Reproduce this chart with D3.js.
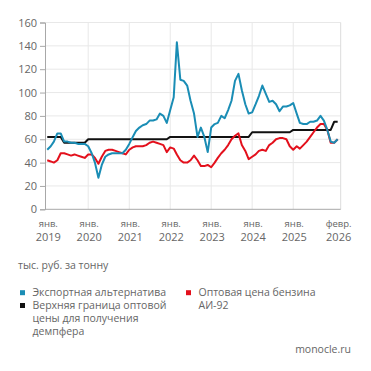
<!DOCTYPE html>
<html>
<head>
<meta charset="utf-8">
<script src="https://cdn.jsdelivr.net/npm/d3@7"></script>
<style>
  body { margin: 0; background: #fff; }
  svg { display: block; font-family: "Open Sans", "Noto Sans", sans-serif; }
</style>
</head>
<body>
<svg id="chart"></svg>
<script>
const width = 371, height = 371;
const svg = d3.select("#chart").attr("width", width).attr("height", height);

// monthly values, Jan 2019 .. Feb 2026 (тыс. руб. за тонну)
const startMonth = new Date(2019, 0, 1);
const exportAlt = [
  51, 54, 58, 65, 65, 58, 58, 57, 57, 56, 56, 56,
  54, 48, 40, 27, 38, 45, 47, 48, 48, 48, 48, 51,
  56, 62, 67, 70, 72, 73, 76, 76, 77, 82, 80, 74,
  85, 96, 143, 111, 110, 106, 93, 82, 62, 70, 62, 49,
  70, 73, 74, 80, 78, 85, 93, 110, 116, 102, 90, 82,
  83, 90, 97, 106, 99, 92, 93, 90, 84, 88, 88, 89,
  91, 82, 74, 73, 73, 75, 75, 76, 80, 76, 68, 58,
  57, 60
];
const wholesale = [
  42, 41, 40, 42, 48, 48, 47, 46, 47, 46, 45, 44,
  47, 47, 44, 39, 45, 50, 51, 51, 50, 49, 48, 47,
  51, 53, 54, 54, 54, 55, 57, 58, 57, 56, 55, 49,
  53, 52, 47, 42, 40, 40, 42, 46, 42, 37, 37, 38,
  36, 40, 44, 48, 51, 55, 60, 63, 65, 55, 50, 43,
  45, 47, 50, 51, 50, 55, 57, 60, 61, 61, 60, 54,
  51, 54, 52, 55, 58, 62, 66, 70, 73, 73, 68, 57,
  57, 60
];
const upperBound = [
  62, 62, 62, 62, 62, 57, 57, 57, 57, 57, 57, 57,
  60, 60, 60, 60, 60, 60, 60, 60, 60, 60, 60, 60,
  60, 60, 60, 60, 60, 60, 60, 60, 60, 60, 60, 60,
  62, 62, 62, 62, 62, 62, 62, 62, 62, 62, 62, 62,
  62, 62, 62, 62, 62, 62, 62, 62, 62, 62, 62, 62,
  66, 66, 66, 66, 66, 66, 66, 66, 66, 66, 66, 66,
  68, 68, 68, 68, 68, 68, 68, 68, 68, 68, 68, 68,
  75, 75
];
const yTicks = [0, 20, 40, 60, 80, 100, 120, 140, 160];
const xTickDates = [
  new Date(2019, 0, 1), new Date(2020, 0, 1), new Date(2021, 0, 1), new Date(2022, 0, 1),
  new Date(2023, 0, 1), new Date(2024, 0, 1), new Date(2025, 0, 1), new Date(2026, 1, 1)
];
const xTickMonths = ["янв.", "янв.", "янв.", "янв.", "янв.", "янв.", "янв.", "февр."];
const xTickYears = ["2019", "2020", "2021", "2022", "2023", "2024", "2025", "2026"];
const gridDates = [
  new Date(2020, 0, 1), new Date(2021, 0, 1), new Date(2022, 0, 1),
  new Date(2023, 0, 1), new Date(2024, 0, 1), new Date(2025, 0, 1)
];

const months = d3.timeMonth.range(startMonth, d3.timeMonth.offset(startMonth, exportAlt.length));

const colors = { blue: "#1a8db5", red: "#e3101c", black: "#111111", grid: "#e8e8e8", axis: "#a8a8a8", text: "#666" };

const x = d3.scaleTime()
  .domain([new Date(2018, 11, 12), new Date(2026, 1, 28)])
  .range([45, 340.7]);
const y = d3.scaleLinear().domain([0, 160]).range([209.3, 22.5]);

// grid
svg.append("g").selectAll("line").data(yTicks.filter(d => d > 0)).join("line")
  .attr("x1", x.range()[0]).attr("x2", x.range()[1])
  .attr("y1", d => y(d)).attr("y2", d => y(d))
  .attr("stroke", colors.grid).attr("stroke-width", 1);

svg.append("g").selectAll("line").data(gridDates).join("line")
  .attr("x1", d => x(d)).attr("x2", d => x(d))
  .attr("y1", y(0)).attr("y2", y(160))
  .attr("stroke", colors.grid).attr("stroke-width", 1);

svg.append("line")
  .attr("x1", x.range()[1]).attr("x2", x.range()[1])
  .attr("y1", y(0)).attr("y2", y(160))
  .attr("stroke", "#dcdcdc");

// y axis
const yAxis = svg.append("g").attr("transform", `translate(${x.range()[0]},0)`)
  .call(d3.axisLeft(y).tickValues(yTicks).tickSize(5).tickPadding(3));
yAxis.select(".domain").attr("stroke", colors.axis);
yAxis.selectAll(".tick line").attr("stroke", colors.axis);
yAxis.selectAll(".tick text").attr("fill", colors.text)
  .style("font-size", "11px").style("font-family", "'Open Sans', sans-serif");

// x axis baseline
svg.append("line")
  .attr("x1", x.range()[0]).attr("x2", x.range()[1])
  .attr("y1", y(0)).attr("y2", y(0))
  .attr("stroke", colors.axis);

// x labels
const xl = svg.append("g").selectAll("text").data(xTickDates).join("text")
  .attr("text-anchor", "middle")
  .attr("fill", colors.text);
xl.append("tspan")
  .attr("x", d => x(d) + 1).attr("y", 226.5)
  .style("font-size", "9.5px")
  .text((d, i) => xTickMonths[i]);
xl.append("tspan")
  .attr("x", d => x(d) + 1).attr("y", 241)
  .style("font-size", "11px")
  .text((d, i) => xTickYears[i]);

// lines
const series = [
  { values: upperBound, color: colors.black },
  { values: wholesale, color: colors.red },
  { values: exportAlt, color: colors.blue }
];
const line = d3.line().x(d => x(d[0])).y(d => y(d[1]));
svg.append("g").selectAll("path").data(series).join("path")
  .attr("d", s => line(months.map((m, i) => [m, s.values[i]])))
  .attr("fill", "none")
  .attr("stroke", s => s.color)
  .attr("stroke-width", 2)
  .attr("stroke-linejoin", "round");

// unit note
svg.append("text").attr("x", 18).attr("y", 268.5)
  .attr("fill", colors.text).style("font-size", "10.5px")
  .text("тыс. руб. за тонну");

// legend
const legend = [
  { x: 20, y: 292.7, color: colors.blue, lines: ["Экспортная альтернатива"] },
  { x: 20, y: 305.5, color: colors.black, lines: ["Верхняя граница оптовой", "цены для получения", "демпфера"] },
  { x: 186, y: 292.7, color: colors.red, lines: ["Оптовая цена бензина", "АИ-92"] }
];
const lg = svg.append("g").selectAll("g").data(legend).join("g");
lg.append("rect")
  .attr("x", d => d.x).attr("y", d => d.y - 2.5)
  .attr("width", 5).attr("height", 5)
  .attr("fill", d => d.color);
lg.each(function(d) {
  const t = d3.select(this).append("text").attr("fill", colors.text).style("font-size", "10.5px");
  d.lines.forEach((s, i) => {
    t.append("tspan").attr("x", d.x + 12.5).attr("y", d.y + 3.7 + i * 12.8).text(s);
  });
});

svg.append("text").attr("x", 351).attr("y", 352.5)
  .attr("text-anchor", "end").attr("fill", colors.text).style("font-size", "10.5px")
  .text("monocle.ru");
</script>
</body>
</html>
